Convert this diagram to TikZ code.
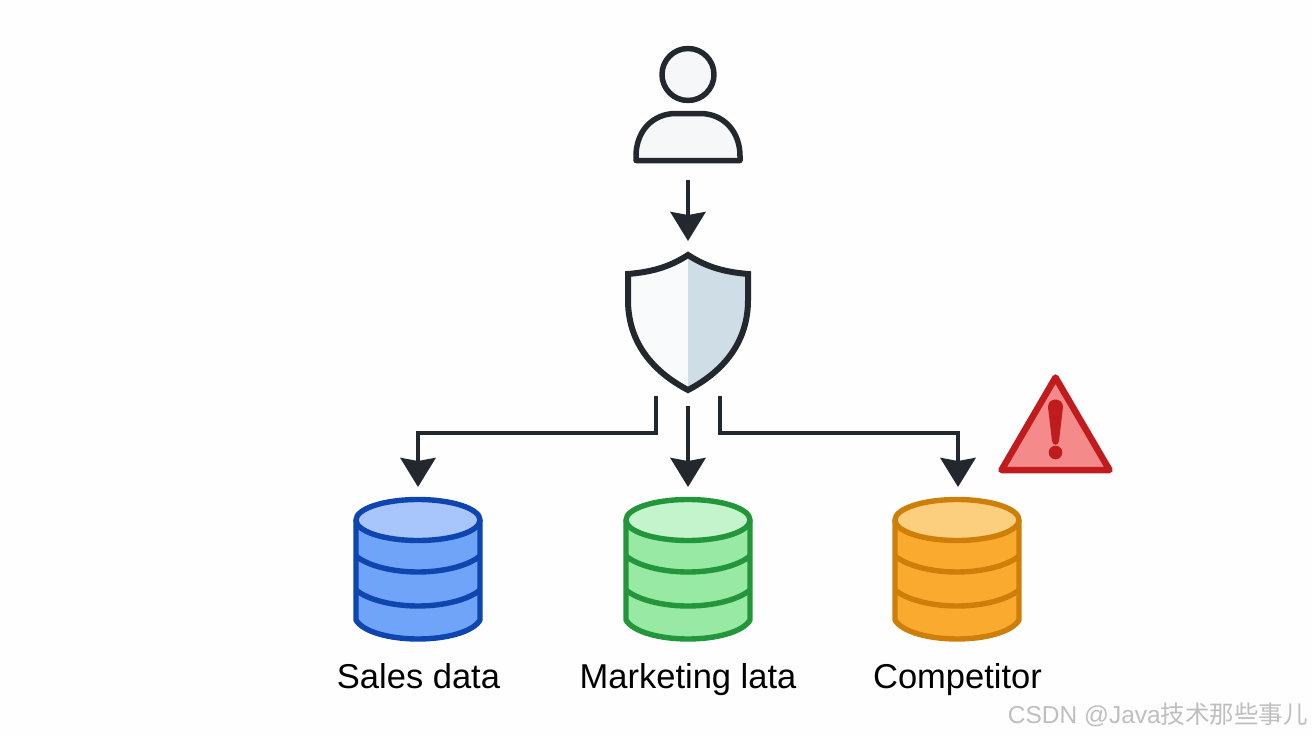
\documentclass[tikz,border=0pt]{standalone}
\usepackage{fontspec}
\setmainfont{Liberation Sans}
\newfontfamily\cjkfont{Noto Sans CJK SC}
\usetikzlibrary{arrows.meta}
\definecolor{ink}{HTML}{22282E}
\definecolor{sblue}{HTML}{0F45AE}\definecolor{fblue}{HTML}{6FA4F8}\definecolor{tblue}{HTML}{A8C6FB}
\definecolor{sgreen}{HTML}{23963C}\definecolor{fgreen}{HTML}{97E9A3}\definecolor{tgreen}{HTML}{C4F4CC}
\definecolor{sorange}{HTML}{CE7F0A}\definecolor{forange}{HTML}{FBAA30}\definecolor{torange}{HTML}{FBCF7E}
\definecolor{wred}{HTML}{C01C1E}\definecolor{wfill}{HTML}{F58A8A}
\definecolor{shieldl}{HTML}{F8FAFB}\definecolor{shieldr}{HTML}{CFDDE6}\definecolor{pale}{HTML}{F5F7F8}
\tikzset{
  conn/.style={draw=ink,line width=4.4pt,-{Stealth[width=35pt,length=29pt,inset=3pt]}},
  icon/.style={draw=ink,line width=5.5pt,line join=round},
  lbl/.style={font=\fontsize{34.5}{38}\selectfont,text=black,anchor=base,inner sep=0pt},
  dbline/.style={line width=5.4pt,line join=round}
}
\newcommand{\dbicon}[4]{%
  \begin{scope}[shift={(#1,0)}]
    \path[fill=#3] (-62,520) -- (-62,620) .. controls (-55,632) and (-28,638) .. (0,638)
      .. controls (28,638) and (55,632) .. (62,620) -- (62,520) -- cycle;
    \draw[draw=#2,dbline] (-62,556) .. controls (-50,566) and (-25,572) .. (0,572)
      .. controls (25,572) and (50,566) .. (62,556);
    \draw[draw=#2,dbline] (-62,590) .. controls (-50,600) and (-25,606) .. (0,606)
      .. controls (25,606) and (50,600) .. (62,590);
    \draw[draw=#2,dbline] (-62,520) -- (-62,620) .. controls (-55,632) and (-28,639) .. (0,639)
      .. controls (28,639) and (55,632) .. (62,620) -- (62,520);
    \draw[draw=#2,fill=#4,dbline] (0,520) ellipse [x radius=62,y radius=20.5];
  \end{scope}}
\begin{document}
\begin{tikzpicture}[x=1pt,y=-1pt]
\useasboundingbox (0,0) rectangle (1312,736);
\fill[white!99.5!black] (0,0) rectangle (1312,736);
% person
\draw[icon,fill=pale] (688,74.5) circle [radius=26];
\draw[icon,fill=pale] (636,160.5) -- (636,156) .. controls (636,132) and (652,113.5) .. (676,113.5)
  -- (700,113.5) .. controls (724,113.5) and (740,132) .. (740,156) -- (740,160.5) -- cycle;
% shield
\fill[shieldl] (688,255) .. controls (668,268) and (650,272) .. (628,274)
  -- (628,300) .. controls (628,340) and (650,370) .. (688,390) -- cycle;
\fill[shieldr] (688,255) .. controls (708,268) and (726,272) .. (748,274)
  -- (748,300) .. controls (748,340) and (726,370) .. (688,390) -- cycle;
\draw[draw=ink,line width=6pt,line join=miter,miter limit=4] (688,255) .. controls (668,268) and (650,272) .. (628,274)
  -- (628,300) .. controls (628,340) and (650,370) .. (688,390)
  .. controls (726,370) and (748,340) .. (748,300) -- (748,274)
  .. controls (726,272) and (708,268) .. (688,255) -- cycle;
% connector ends
\coordinate (pout) at (688,180);
\coordinate (sin) at (688,241);
\coordinate (sl) at (656,396);
\coordinate (sm) at (688,406);
\coordinate (sr) at (720,396);
\coordinate (dbl) at (418,487);
\coordinate (dbm) at (688,487);
\coordinate (dbr) at (958,487);
\draw[conn] (pout) -- (sin);
\draw[conn] (sm) -- (dbm);
\draw[conn] (sl) -- (656,433) -- (418,433) -- (dbl);
\draw[conn] (sr) -- (720,433) -- (958,433) -- (dbr);
% databases
\dbicon{418}{sblue}{fblue}{tblue}
\dbicon{688}{sgreen}{fgreen}{tgreen}
\dbicon{957}{sorange}{forange}{torange}
% warning
\draw[draw=wred,fill=wfill,line width=6.5pt,line join=round] (1055.5,377.5) -- (1109.5,470) -- (1001.5,470) -- cycle;
\fill[wred] (1048,407) .. controls (1048,397) and (1063,397) .. (1063,407)
  -- (1059,441) .. controls (1058.5,446) and (1052.5,446) .. (1052,441) -- cycle;
\fill[wred] (1055.5,452.5) circle [radius=6.8];
% labels
\node[lbl] (t1) at (418.5,688) {Sales data};
\node[lbl] (t2) at (688,688) {Marketing lata};
\node[lbl] (t3) at (957.5,688) {Competitor};
\node[anchor=base east,inner sep=0pt,text=black!25,font=\fontsize{24.5}{28}\selectfont] (wm) at (1308,723) {CSDN @Java{\cjkfont 技术那些事儿}};
\end{tikzpicture}
\end{document}
